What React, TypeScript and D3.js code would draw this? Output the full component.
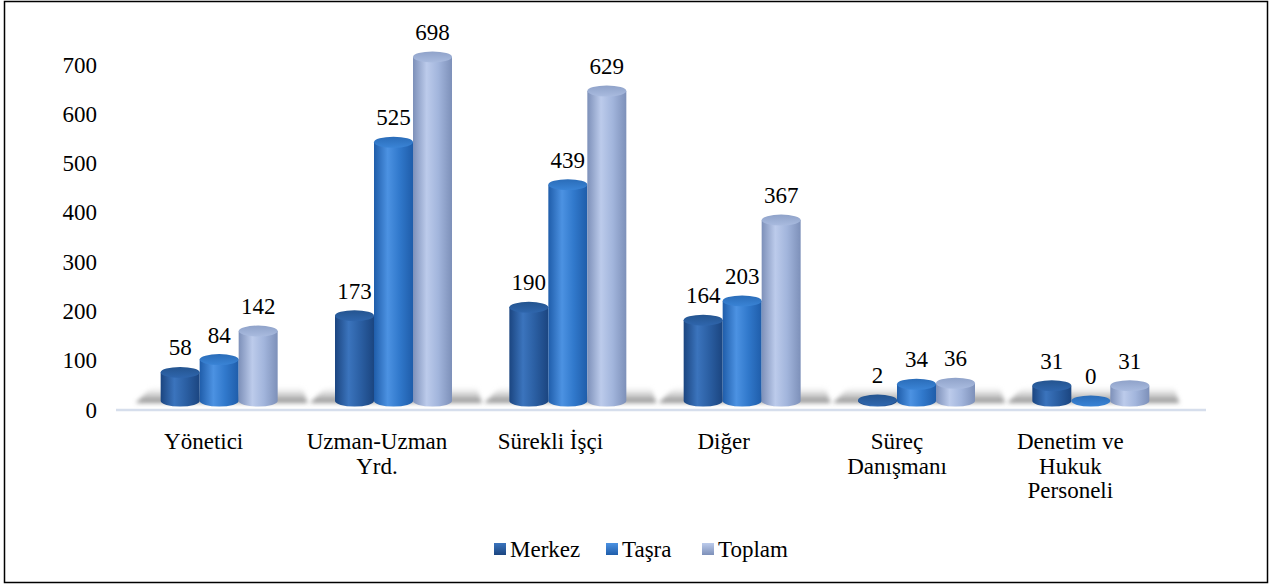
import React from "react";
import * as d3 from "d3";

const categories: string[][] = [
  ["Yönetici"],
  ["Uzman-Uzman", "Yrd."],
  ["Sürekli İşçi"],
  ["Diğer"],
  ["Süreç", "Danışmanı"],
  ["Denetim ve", "Hukuk", "Personeli"],
];
const seriesNames = ["Merkez", "Taşra", "Toplam"];
const merkez = [58, 173, 190, 164, 2, 31];
const tasra = [84, 525, 439, 203, 34, 0];
const toplam = [142, 698, 629, 367, 36, 31];
const yTicks = [0, 100, 200, 300, 400, 500, 600, 700];

const seriesValues = [merkez, tasra, toplam];
const palettes = [
  { dark: "#1b4580", mid: "#2b5fa3", light: "#3b74bd", top: "#2f66ad", topDark: "#24548f" },
  { dark: "#1f5daa", mid: "#3179cc", light: "#4c92e2", top: "#3a84d6", topDark: "#2a6cb8" },
  { dark: "#7d90b9", mid: "#a2b5dc", light: "#bccbeb", top: "#a9bbdf", topDark: "#8fa2c9" },
];

const FONT = "Liberation Serif, Tinos, Times New Roman, DejaVu Serif, serif";

export default function App() {
  const W = 1280, H = 584;
  const yAxis = d3.scaleLinear().domain([0, 700]).range([409.5, 64.5]);
  const barBase = 401;
  const hScale = d3.scaleLinear().domain([0, 700]).range([0, 345]);
  const barX = d3.scaleBand<number>().domain(d3.range(6)).range([132, 1178]).padding(0);
  const labelX = d3.scaleBand<number>().domain(d3.range(6)).range([117, 1157]).padding(0);
  const rx = 19.5, ry = 5.5, gap = 39;
  const txt = { fontFamily: FONT, fontSize: "23px" } as React.CSSProperties;

  return (
    <svg width={W} height={H} style={{ position: "absolute", left: 0, top: 0 }}>
      <defs>
        {palettes.map((p, i) => (
          <linearGradient key={"b" + i} id={"body" + i} x1="0" x2="1" y1="0" y2="0">
            <stop offset="0" stopColor={p.dark} />
            <stop offset="0.35" stopColor={p.light} />
            <stop offset="0.65" stopColor={p.mid} />
            <stop offset="1" stopColor={p.dark} />
          </linearGradient>
        ))}
        {palettes.map((p, i) => (
          <linearGradient key={"t" + i} id={"top" + i} x1="0" x2="0" y1="0" y2="1">
            <stop offset="0" stopColor={p.topDark} />
            <stop offset="1" stopColor={p.top} />
          </linearGradient>
        ))}
        {palettes.map((p, i) => (
          <linearGradient key={"l" + i} id={"leg" + i} x1="0" x2="0" y1="0" y2="1">
            <stop offset="0" stopColor={p.light} />
            <stop offset="1" stopColor={p.dark} />
          </linearGradient>
        ))}
        <linearGradient id="shadowGrad" x1="0" x2="0" y1="0" y2="1">
          <stop offset="0" stopColor="#ffffff" stopOpacity="0" />
          <stop offset="0.5" stopColor="#b8b8b8" stopOpacity="0.6" />
          <stop offset="1" stopColor="#7a7a7a" stopOpacity="0.9" />
        </linearGradient>
        <filter id="blur" x="-20%" y="-50%" width="140%" height="200%">
          <feGaussianBlur stdDeviation="2" />
        </filter>
      </defs>
      <rect x={4.5} y={1.5} width={1263} height={581} fill="#fff" stroke="#000" strokeWidth={1.5} />

      {yTicks.map((t) => (
        <text key={t} x={97} y={yAxis(t) + 8} textAnchor="end" style={txt} fill="#000">
          {t}
        </text>
      ))}

      <line x1={116} x2={1206} y1={410} y2={410} stroke="#d6deec" strokeWidth={2.5} />

      {categories.map((_, ci) => {
        const c = barX(ci)! + barX.bandwidth() / 2;
        const l = c - gap - rx - 25;
        const r = c + gap + rx + 30;
        const d = `M${l},${barBase + 2} L${r},${barBase + 2} L${r - 6},${barBase - 16} L${l + 18},${barBase - 16} Z`;
        return <path key={"s" + ci} d={d} fill="url(#shadowGrad)" filter="url(#blur)" />;
      })}

      {categories.map((_, ci) => {
        const c = barX(ci)! + barX.bandwidth() / 2;
        return seriesValues.map((vals, si) => {
          const v = vals[ci];
          const cx = c + (si - 1) * gap;
          const h = hScale(v);
          const topY = barBase - h;
          const body = `M${cx - rx},${topY} L${cx - rx},${barBase} A${rx},${ry} 0 0 0 ${cx + rx},${barBase} L${cx + rx},${topY} Z`;
          return (
            <g key={`c${ci}-${si}`}>
              {h > 0.5 && <path d={body} fill={`url(#body${si})`} />}
              <ellipse cx={cx} cy={topY} rx={rx} ry={ry} fill={`url(#top${si})`} />
              <text x={cx} y={topY - 17} textAnchor="middle" style={txt} fill="#000">
                {v}
              </text>
            </g>
          );
        });
      })}

      {categories.map((lines, ci) => {
        const cx = labelX(ci)! + labelX.bandwidth() / 2;
        return (
          <text key={"cat" + ci} x={cx} textAnchor="middle" style={txt} fill="#000">
            {lines.map((ln, li) => (
              <tspan key={li} x={cx} y={449 + li * 24.5}>
                {ln}
              </tspan>
            ))}
          </text>
        );
      })}

      {seriesNames.map((name, i) => {
        const xs = [494, 606, 702][i];
        return (
          <g key={"lg" + i}>
            <rect x={xs} y={543} width={12} height={12} fill={`url(#leg${i})`} />
            <text x={xs + 16} y={557} style={txt} fill="#000">
              {name}
            </text>
          </g>
        );
      })}
    </svg>
  );
}
